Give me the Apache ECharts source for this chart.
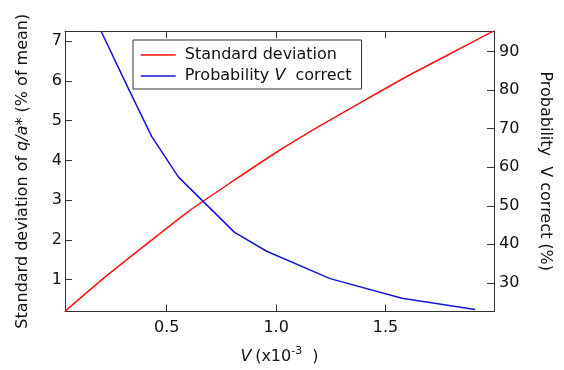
<!DOCTYPE html>
<html>
<head>
<meta charset="utf-8">
<script src="https://cdn.jsdelivr.net/npm/echarts@6/dist/echarts.min.js"></script>
<style>
  html, body { margin: 0; padding: 0; background: #fff; }
  #main { width: 564px; height: 370px; }
</style>
</head>
<body>
<div id="main"></div>
<script>
// standard deviation of q/a* (left axis)
const sdV = [0.035, 0.2, 0.4, 0.6, 0.8, 1.0, 1.2, 1.4, 1.6, 1.8, 1.99]
const sdValues = [0.2, 0.98, 1.86, 2.72, 3.47, 4.2, 4.87, 5.5, 6.12, 6.7, 7.25]

// probability V correct (right axis)
const probV = [0.2, 0.32, 0.431, 0.553, 0.81, 0.957, 1.247, 1.575, 1.91]
const probValues = [95.3, 81, 68, 57.5, 43.1, 38.2, 31.1, 26.0, 23.1]

// tick labels
const xTicks = [0.5, 1.0, 1.5]
const leftTicks = [1, 2, 3, 4, 5, 6, 7]
const rightTicks = [30, 40, 50, 60, 70, 80, 90]

const FONT = 'DejaVu Sans'
const AXIS_COLOR = '#333'

const myChart = echarts.init(document.getElementById('main'))

function pairs(xs, ys) {
  return xs.map((x, i) => [x, ys[i]])
}

const tickStyle = (vals) => ({
  show: true,
  inside: true,
  length: 7,
  customValues: vals,
  lineStyle: { color: AXIS_COLOR, width: 1 }
})
const lineStyle = { show: true, onZero: false, lineStyle: { color: AXIS_COLOR, width: 1 } }
const labelText = { fontFamily: FONT, fontSize: 16, color: '#111' }

const option = {
  animation: false,
  textStyle: { fontFamily: FONT },
  grid: { left: 65, right: 70, top: 31, bottom: 58, containLabel: false },
  legend: {
    orient: 'vertical',
    left: 133,
    top: 40,
    padding: [5, 10, 3, 7],
    borderColor: AXIS_COLOR,
    borderWidth: 1,
    itemWidth: 35,
    itemHeight: 14,
    itemGap: 1,
    itemStyle: { opacity: 0 },
    lineStyle: { width: 1.5 },
    data: ['Standard deviation', 'Probability V correct'],
    formatter: function (name) {
      if (name === 'Probability V correct') return '{n|Probability }{i|V}{n|  correct}'
      return '{n|' + name + '}'
    },
    textStyle: {
      fontFamily: FONT, fontSize: 16, color: '#111', lineHeight: 20, padding: [0, 0, 0, 4],
      rich: {
        n: { fontFamily: FONT, fontSize: 16, color: '#111' },
        i: { fontFamily: FONT, fontSize: 16, color: '#111', fontStyle: 'italic' }
      }
    }
  },
  xAxis: [
    {
      type: 'value',
      position: 'bottom',
      min: 0.035,
      max: 1.996,
      axisLine: lineStyle,
      axisTick: tickStyle(xTicks),
      splitLine: { show: false },
      axisLabel: Object.assign({
        customValues: xTicks,
        margin: 8,
        formatter: v => v.toFixed(1)
      }, labelText),
      name: '{i|V} {n|(x10}{s|-3}{n|  )}',
      nameLocation: 'middle',
      nameGap: 34,
      nameTextStyle: {
        rich: {
          n: { fontFamily: FONT, fontSize: 16, color: '#111' },
          i: { fontFamily: FONT, fontSize: 16, color: '#111', fontStyle: 'italic' },
          s: { fontFamily: FONT, fontSize: 11, color: '#111', padding: [0, 0, 12, 0] }
        }
      }
    },
    {
      type: 'value',
      position: 'top',
      min: 0.035,
      max: 1.996,
      axisLine: lineStyle,
      axisTick: tickStyle(xTicks),
      splitLine: { show: false },
      axisLabel: { show: false }
    }
  ],
  yAxis: [
    {
      type: 'value',
      position: 'left',
      min: 0.196,
      max: 7.26,
      axisLine: lineStyle,
      axisTick: tickStyle(leftTicks),
      splitLine: { show: false },
      axisLabel: Object.assign({ customValues: leftTicks, margin: 3 }, labelText),
      name: '{n|Standard deviation of }{i|q/a*}{n| (% of mean)}',
      nameLocation: 'middle',
      nameRotate: 90,
      nameGap: 34,
      nameTextStyle: {
        rich: {
          n: { fontFamily: FONT, fontSize: 16, color: '#111' },
          i: { fontFamily: FONT, fontSize: 16, color: '#111', fontStyle: 'italic' }
        }
      }
    },
    {
      type: 'value',
      position: 'right',
      min: 22.57,
      max: 95.36,
      axisLine: lineStyle,
      axisTick: tickStyle(rightTicks),
      splitLine: { show: false },
      axisLabel: Object.assign({ customValues: rightTicks, margin: 5 }, labelText),
      name: '{n|Probability  }{n|V}{n| correct (%)}',
      nameLocation: 'middle',
      nameRotate: -90,
      nameGap: 43,
      nameTextStyle: {
        rich: {
          n: { fontFamily: FONT, fontSize: 16, color: '#111' }
        }
      }
    }
  ],
  series: [
    {
      name: 'Standard deviation',
      type: 'line',
      xAxisIndex: 0,
      yAxisIndex: 0,
      smooth: 0.2,
      symbol: 'none',
      lineStyle: { color: '#ff1010', width: 1.5 },
      itemStyle: { color: '#ff1010' },
      data: pairs(sdV, sdValues)
    },
    {
      name: 'Probability V correct',
      type: 'line',
      xAxisIndex: 0,
      yAxisIndex: 1,
      symbol: 'none',
      lineStyle: { color: '#1515d8', width: 1.5 },
      itemStyle: { color: '#1515d8' },
      data: pairs(probV, probValues)
    }
  ]
}

option && myChart.setOption(option)
</script>
</body>
</html>
